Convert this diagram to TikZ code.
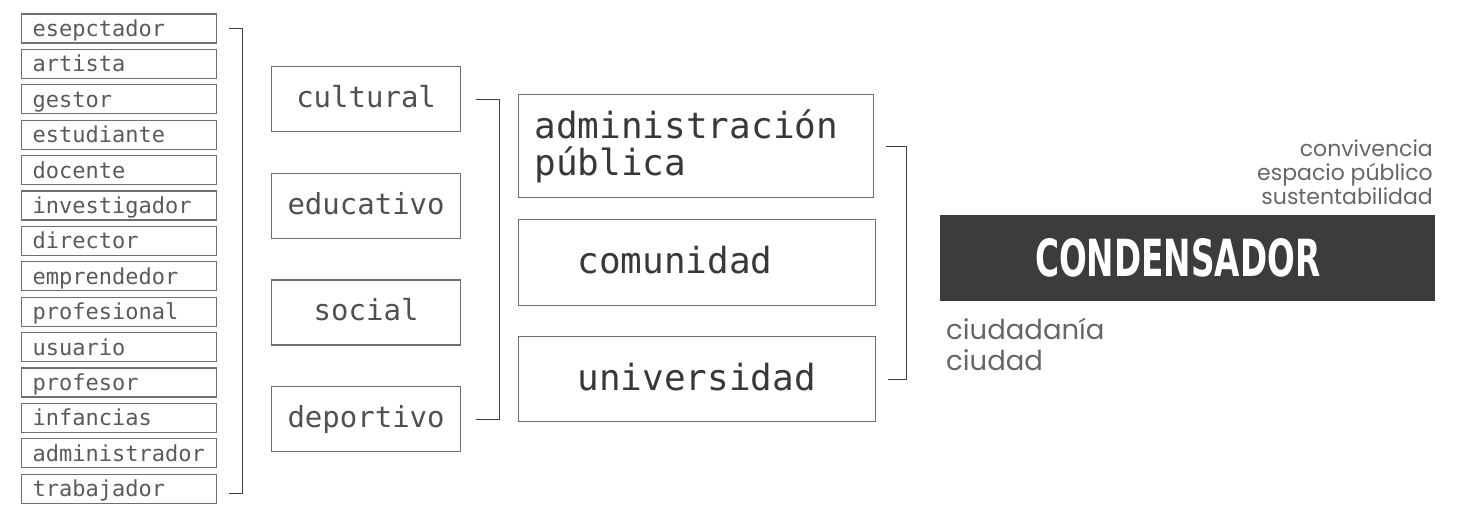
\documentclass[tikz,border=0pt]{standalone}
\usepackage{fontspec}
\usepackage{xcolor}
\usepackage{graphicx}
\usepackage{tikz}
\setmonofont{DejaVu Sans Mono}
\newfontfamily\sidefont{Poppins}
\newfontfamily\blockfont{DejaVu Sans}
\definecolor{boxline}{HTML}{6F6F6F}
\definecolor{roltext}{HTML}{5A5A5A}
\definecolor{areatext}{HTML}{505050}
\definecolor{actortext}{HTML}{383838}
\definecolor{sidetext}{HTML}{666666}
\definecolor{condfill}{HTML}{3C3C3B}

\begin{document}
\begin{tikzpicture}[x=1pt, y=-1pt,
    rol/.style={draw=boxline, line width=1.2pt, anchor=north west, minimum height=29pt,
        text width=173pt, inner xsep=11pt, inner ysep=0pt, align=left,
        text height=16.5pt, text depth=0.5pt, text=roltext,
        font=\ttfamily\fontsize{22}{26}\selectfont},
    area/.style={draw=boxline, line width=1.2pt, anchor=north west, minimum width=189pt,
        minimum height=65pt, inner sep=0pt, text height=22pt, text depth=5.6pt,
        text=areatext, font=\ttfamily\fontsize{29}{34}\selectfont},
    actor/.style={draw=boxline, line width=1.2pt, anchor=north west, inner ysep=0pt,
        text=actortext, align=left, font=\ttfamily\fontsize{36}{37}\selectfont},
    bracket/.style={draw=black!75, line width=1.2pt},
    side/.style={text=sidetext, inner sep=0pt}]
     \useasboundingbox (0,0) rectangle (1461,506);

     \node[rol] (espec) at (21,13.3) {esepctador};
     \node[rol] (artis) at (21,48.7) {artista};
     \node[rol] (gesto) at (21,84.1) {gestor};
     \node[rol] (estud) at (21,119.5) {estudiante};
     \node[rol] (docen) at (21,154.9) {docente};
     \node[rol] (inves) at (21,190.3) {investigador};
     \node[rol] (direc) at (21,225.7) {director};
     \node[rol] (empre) at (21,261.1) {emprendedor};
     \node[rol] (profe) at (21,296.5) {profesional};
     \node[rol] (usuar) at (21,331.9) {usuario};
     \node[rol] (profs) at (21,367.3) {profesor};
     \node[rol] (infan) at (21,402.7) {infancias};
     \node[rol] (admor) at (21,438.1) {administrador};
     \node[rol] (traba) at (21,473.5) {trabajador};

     \draw[bracket] ([xshift=12pt]espec.east) -- ++(13,0) |- ([xshift=12pt,yshift=-5pt]traba.east);

     \node[area] (cult) at (271,66) {cultural};
     \node[area] (educ) at (271,172.7) {educativo};
     \node[area] (soci) at (271,279.3) {social};
     \node[area] (depo) at (271,386) {deportivo};

     \draw[bracket] ([xshift=15pt]cult.east) -- ++(23,0) |- ([xshift=15pt]depo.east);

     \node[actor, minimum height=103pt, text width=323pt, inner xsep=16pt] (admin) at (518,94) {administración\\pública};
     \node[actor, minimum height=86pt, text width=239pt, inner xsep=59pt, text height=27pt, text depth=5pt] (comun) at (518,219) {comunidad};
     \node[actor, minimum height=85pt, text width=239pt, inner xsep=59pt, text height=27pt, text depth=5pt] (univ) at (518,336) {universidad};

     \draw[bracket] ([xshift=12pt]admin.east) -- ++(20,0) |- ([xshift=12pt]univ.east);

     \node[fill=condfill, anchor=north west, minimum width=495pt, minimum height=86pt, inner sep=0pt, text=white] (cond) at (940,215)
          {\resizebox{285pt}{38pt}{\blockfont\bfseries CONDENSADOR}\hspace*{20pt}};

     \node[side, anchor=base east, font=\sidefont\fontsize{22}{24}\selectfont] (conv) at (1433,156) {convivencia};
     \node[side, anchor=base east, font=\sidefont\fontsize{22}{24}\selectfont] (espa) at (1433,180) {espacio público};
     \node[side, anchor=base east, font=\sidefont\fontsize{22}{24}\selectfont] (sust) at (1433,204) {sustentabilidad};
     \node[side, anchor=base west, font=\sidefont\fontsize{27.5}{31}\selectfont] (ciuda) at (946,339) {ciudadanía};
     \node[side, anchor=base west, font=\sidefont\fontsize{27.5}{31}\selectfont] (ciud) at (946,370) {ciudad};
\end{tikzpicture}
\end{document}
